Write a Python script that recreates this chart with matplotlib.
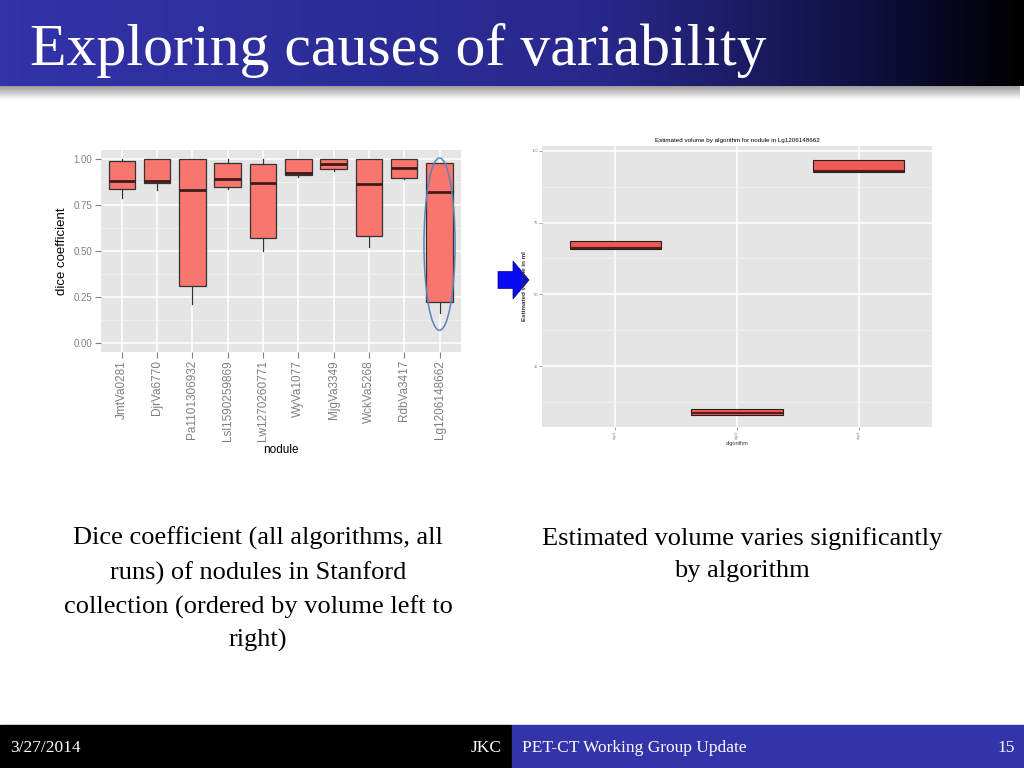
import matplotlib
matplotlib.use("Agg")
import matplotlib.pyplot as plt, numpy as np
from matplotlib.patches import Ellipse, Rectangle, FancyArrow

# left chart: dice coefficient per nodule (ordered by volume)
nodules = ["JmtVa0281", "DjrVa6770", "Pa1101306932", "Lsl1590259869",
           "Lw1270260771", "WyVa1077", "MjgVa3349", "WckVa5268",
           "RdbVa3417", "Lg1206148662"]
dice_low = [0.79, 0.83, 0.21, 0.84, 0.50, 0.905, 0.936, 0.52, 0.89, 0.16]
dice_q1 = [0.84, 0.87, 0.31, 0.85, 0.57, 0.912, 0.949, 0.58, 0.90, 0.22]
dice_med = [0.88, 0.883, 0.83, 0.892, 0.872, 0.923, 0.974, 0.863, 0.953, 0.821]
dice_q3 = [0.99, 1.0, 1.0, 0.98, 0.973, 1.0, 1.0, 1.0, 1.0, 0.98]
dice_high = [1.0, 1.0, 1.0, 1.0, 1.0, 1.0, 1.0, 1.0, 1.0, 0.98]

# right chart: estimated volume for Lg1206148662
algorithms = ["algo1", "algo2", "algo3"]
vol_q1 = [65.8, 8.2, 92.5]
vol_med = [66.3, 8.8, 92.8]
vol_q3 = [68.6, 10.0, 96.9]

title = "Exploring causes of variability"
left_caption = ("Dice coefficient (all algorithms, all\nruns) of nodules in Stanford\n"
                "collection (ordered by volume left to\nright)")
right_caption = "Estimated volume varies significantly\nby algorithm"

FILL = "#F8766D"
PANEL = "#E5E5E5"
SERIF = ["Liberation Serif", "DejaVu Serif"]
SANS = ["Liberation Sans", "DejaVu Sans"]


def make_stats(low, q1, med, q3, high):
    return [dict(whislo=a, q1=b, med=c, q3=d, whishi=e, fliers=[])
            for a, b, c, d, e in zip(low, q1, med, q3, high)]


def gg_axes(ax, tick_color="#7f7f7f"):
    """fundo cinza estilo ggplot2 antigo"""
    ax.set_facecolor(PANEL)
    for s in ax.spines.values():
        s.set_visible(False)
    ax.grid(True, which="major", color="white", lw=1.1)
    ax.grid(True, which="minor", color="#F2F2F2", lw=0.6)
    ax.set_axisbelow(True)
    ax.tick_params(which="major", color=tick_color, labelcolor=tick_color)
    ax.tick_params(which="minor", length=0)


fig = plt.figure(figsize=(10.24, 7.68), dpi=100)

# slide background in pixel coordinates
bg = fig.add_axes([0, 0, 1, 1])
bg.set_xlim(0, 1024)
bg.set_ylim(768, 0)
bg.axis("off")

xs = np.linspace(0, 1024, 512)
stops = [0, 600, 850, 955, 1024]
r = np.interp(xs, stops, [51, 40, 18, 6, 0])
g = np.interp(xs, stops, [51, 40, 18, 6, 0])
b = np.interp(xs, stops, [170, 140, 70, 30, 0])
grad = np.stack([r, g, b], axis=-1)[None, :, :] / 255.0
bg.imshow(grad, extent=(0, 1024, 86, 0), aspect="auto")

shade = np.linspace(0.62, 1.0, 20)[:, None, None] * np.ones((1, 2, 3))
bg.imshow(shade, extent=(0, 1020, 100, 86), aspect="auto")
bg.set_xlim(0, 1024)
bg.set_ylim(768, 0)

bg.text(30, 65, title, color="white", fontsize=43, family=SERIF)

bg.add_patch(Rectangle((0, 725), 512, 43, color="black"))
bg.add_patch(Rectangle((512, 725), 512, 43, color="#3333AA"))
ft = dict(color="white", fontsize=12.5, family=SERIF, va="center")
bg.text(10, 748, "3/27/2014", **ft)
bg.text(502, 748, "JKC", ha="right", **ft)
bg.text(522, 748, "PET-CT Working Group Update", **ft)
bg.text(1015, 748, "15", ha="right", **ft)

bg.text(258, 527, left_caption, fontsize=19, family=SERIF, ha="center", va="top",
        linespacing=1.6)
bg.text(742, 527, right_caption, fontsize=19, family=SERIF, ha="center", va="top",
        linespacing=1.6)

bg.add_patch(FancyArrow(498, 280, 15, 0, width=17, head_width=38, head_length=16,
                        length_includes_head=False, color="#0A0AF0", ec="#000088", lw=0.5))

# left chart
ax1 = fig.add_axes([0.0983, 0.542, 0.3516, 0.2626])
gg_axes(ax1)
pos = np.arange(len(nodules))
ax1.bxp(make_stats(dice_low, dice_q1, dice_med, dice_q3, dice_high), positions=pos,
        widths=0.75, patch_artist=True, showcaps=False,
        boxprops=dict(facecolor=FILL, edgecolor="#333333", lw=0.9),
        medianprops=dict(color="#3d1c1a", lw=2),
        whiskerprops=dict(color="#333333", lw=0.9))
ax1.set_xlim(-0.6, len(nodules) - 0.4)
ax1.set_ylim(-0.05, 1.05)
ax1.set_yticks([0, 0.25, 0.5, 0.75, 1.0])
ax1.set_yticklabels(["0.00", "0.25", "0.50", "0.75", "1.00"], fontsize=7, family=SANS)
ax1.set_yticks([0.125, 0.375, 0.625, 0.875], minor=True)
ax1.set_xticks(pos)
ax1.set_xticklabels(nodules, rotation=90, fontsize=8.5, family=SANS)
ax1.tick_params(length=4, width=0.8, pad=2)
ax1.set_ylabel("dice coefficient", fontsize=9.5, family=SANS, labelpad=4)
ax1.set_xlabel("nodule", fontsize=8.5, family=SANS, labelpad=2)
ax1.add_patch(Ellipse((9, 0.537), 0.88, 0.94, fill=False, ec="#5A85B8", lw=1.1,
                      clip_on=False, zorder=5))

# right chart
ax2 = fig.add_axes([0.5296, 0.4444, 0.3803, 0.3655])
gg_axes(ax2)
pos2 = np.arange(len(algorithms))
ax2.bxp(make_stats(vol_q1, vol_q1, vol_med, vol_q3, vol_q3), positions=pos2,
        widths=0.75, patch_artist=True, showcaps=False,
        boxprops=dict(facecolor="#F05A55", edgecolor="#222222", lw=0.8),
        medianprops=dict(color="#5a1a18", lw=1.5),
        whiskerprops=dict(color="#333333", lw=0.6))
ax2.set_xlim(-0.6, len(algorithms) - 0.4)
ax2.set_ylim(4, 101.6)
ax2.set_yticks([25, 50, 75, 100])
ax2.set_yticklabels(["25", "50", "75", "100"], fontsize=3, family=SANS)
ax2.set_yticks([12.5, 37.5, 62.5, 87.5], minor=True)
ax2.set_xticks(pos2)
ax2.set_xticklabels(algorithms, rotation=90, fontsize=2.5, family=SANS)
ax2.tick_params(length=2, width=0.5, pad=1)
ax2.set_ylabel("Estimated volume in ml", fontsize=4.5, family=SANS, labelpad=3,
               fontweight="bold", color="#333333")
ax2.set_xlabel("algorithm", fontsize=4, family=SANS, labelpad=1.5, color="#333333")
ax2.set_title("Estimated volume by algorithm for nodule in Lg1206148662", fontsize=4.5,
              family=SANS, pad=3)

fig.savefig("out.png", dpi=100)
